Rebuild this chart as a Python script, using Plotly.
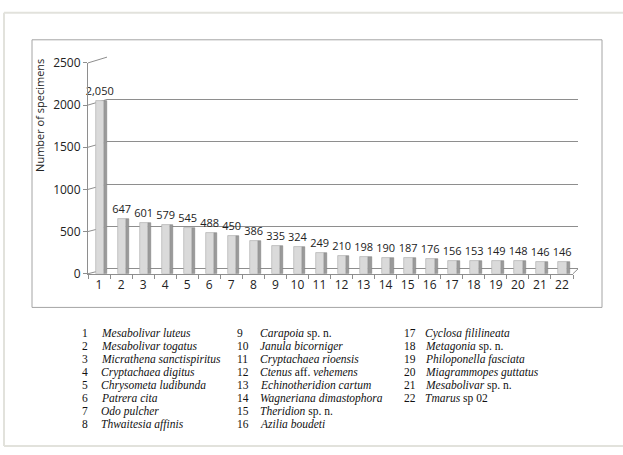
import plotly.graph_objects as go

W, H = 623, 455

categories = [str(i) for i in range(1, 23)]
counts = [2050, 647, 601, 579, 545, 488, 450, 386, 335, 324, 249,
          210, 198, 190, 187, 176, 156, 153, 149, 148, 146, 146]
species = [
    ("<i>Mesabolivar luteus</i>"),
    ("<i>Mesabolivar togatus</i>"),
    ("<i>Micrathena sanctispiritus</i>"),
    ("<i>Cryptachaea digitus</i>"),
    ("<i>Chrysometa ludibunda</i>"),
    ("<i>Patrera cita</i>"),
    ("<i>Odo pulcher</i>"),
    ("<i>Thwaitesia affinis</i>"),
    ("<i>Carapoia</i> sp. n."),
    ("<i>Janula bicorniger</i>"),
    ("<i>Cryptachaea rioensis</i>"),
    ("<i>Ctenus</i> aff. <i>vehemens</i>"),
    ("<i>Echinotheridion cartum</i>"),
    ("<i>Wagneriana dimastophora</i>"),
    ("<i>Theridion</i> sp. n."),
    ("<i>Azilia boudeti</i>"),
    ("<i>Cyclosa fililineata</i>"),
    ("<i>Metagonia</i> sp. n."),
    ("<i>Philoponella fasciata</i>"),
    ("<i>Miagrammopes guttatus</i>"),
    ("<i>Mesabolivar</i> sp. n."),
    ("<i>Tmarus</i> sp 02"),
]
y_ticks = [0, 500, 1000, 1500, 2000, 2500]


def px(x):
    return x / W


def py(y):
    return 1 - y / H


fig = go.Figure()

# invisible trace so the back-wall grid subplot exists
fig.add_trace(go.Scatter(x=[0, 1], y=[0, 0], xaxis="x", yaxis="y",
                         mode="markers", marker=dict(opacity=0),
                         hoverinfo="skip", showlegend=False))

# side faces of the 3D bars
fig.add_trace(go.Bar(
    x=categories, y=counts, xaxis="x2", yaxis="y2",
    offset=0.22, width=0.14,
    marker=dict(color="#9a9a9a", line=dict(color="#7a7a7a", width=0.5)),
    hoverinfo="skip", showlegend=False,
))
# front faces with value labels
fig.add_trace(go.Bar(
    x=categories, y=counts, xaxis="x2", yaxis="y2",
    offset=-0.16, width=0.38,
    marker=dict(color="#dadada", line=dict(color="#a8a8a8", width=0.6)),
    text=counts, texttemplate="%{y:,}", textposition="outside",
    constraintext="none",
    textfont=dict(family="Open Sans", size=11, color="#222"),
    cliponaxis=False, showlegend=False,
))

font = dict(family="Open Sans", size=12, color="#222")

fig.update_layout(
    width=W, height=H,
    margin=dict(l=0, r=0, t=0, b=0),
    paper_bgcolor="white", plot_bgcolor="rgba(0,0,0,0)",
    showlegend=False, barmode="overlay",
    # back wall gridlines
    xaxis=dict(domain=[px(107), px(578)], range=[0, 1], showgrid=False,
               zeroline=False, showticklabels=False, ticks="", showline=False),
    yaxis=dict(domain=[py(270), py(50)], range=[0, 2500], tickvals=y_ticks,
               showgrid=True, gridcolor="#8e8e8e", gridwidth=1,
               zeroline=True, zerolinecolor="#8e8e8e", zerolinewidth=1,
               showticklabels=False, ticks="", showline=False),
    # front axes with bars
    xaxis2=dict(domain=[px(88), px(573)], anchor="y2", type="category",
                range=[-0.5, 21.5], showgrid=False, zeroline=False,
                showline=True, linecolor="#8e8e8e", linewidth=1,
                ticks="outside", tickson="boundaries", ticklen=4,
                tickcolor="#8e8e8e", tickfont=font, tickangle=0),
    yaxis2=dict(domain=[py(275), py(56)], anchor="x2", range=[0, 2500],
                tickvals=y_ticks, showgrid=False, zeroline=False,
                showline=True, linecolor="#8e8e8e", linewidth=1,
                ticks="outside", ticklen=4, tickcolor="#8e8e8e",
                tickfont=font),
    bargap=0,
)

shapes = []
# outer page edge
shapes.append(dict(type="line", xref="paper", yref="paper", x0=px(4), x1=1,
                   y0=py(4), y1=py(4), line=dict(color="#e2e2dc", width=2)))
shapes.append(dict(type="line", xref="paper", yref="paper", x0=px(4), x1=px(4),
                   y0=py(4), y1=py(454), line=dict(color="#e2e2dc", width=2)))
shapes.append(dict(type="line", xref="paper", yref="paper", x0=px(4), x1=1,
                   y0=py(454), y1=py(454), line=dict(color="#e2e2dc", width=2)))
# chart frame
shapes.append(dict(type="rect", xref="paper", yref="paper", x0=px(32), x1=px(602),
                   y0=py(310), y1=py(32), line=dict(color="#a4a4a4", width=1),
                   layer="below"))
# side-wall diagonals (3D depth)
for v in y_ticks:
    fy = 275 - v / 2500 * 219
    by = 270 - v / 2500 * 220
    shapes.append(dict(type="line", xref="paper", yref="paper",
                       x0=px(88), x1=px(107), y0=py(fy), y1=py(by),
                       line=dict(color="#8e8e8e", width=1), layer="below"))
# floor right edge
shapes.append(dict(type="line", xref="paper", yref="paper",
                   x0=px(573), x1=px(578), y0=py(275), y1=py(270),
                   line=dict(color="#8e8e8e", width=1)))
fig.update_layout(shapes=shapes)

annotations = [dict(text="Number of specimens", xref="paper", yref="paper",
                    x=px(40), y=py(110), textangle=-90, showarrow=False,
                    font=dict(family="Open Sans", size=11, color="#222"),
                    xanchor="center", yanchor="middle")]

col_num_x = [80, 235, 402]
col_name_x = [99, 258, 423]
row_y0, row_dy = 337, 13.5
for i, name in enumerate(species):
    col = i // 8
    row = i % 8
    yy = row_y0 + row * row_dy
    annotations.append(dict(text=categories[i], xref="paper", yref="paper",
                            x=px(col_num_x[col]), y=py(yy), showarrow=False,
                            xanchor="left", yanchor="middle",
                            font=dict(family="Liberation Serif", size=11.5, color="#111")))
    annotations.append(dict(text=name, xref="paper", yref="paper",
                            x=px(col_name_x[col]), y=py(yy), showarrow=False,
                            xanchor="left", yanchor="middle",
                            font=dict(family="Liberation Serif", size=11.5, color="#111")))
fig.update_layout(annotations=annotations)

fig.write_html("out.html")
